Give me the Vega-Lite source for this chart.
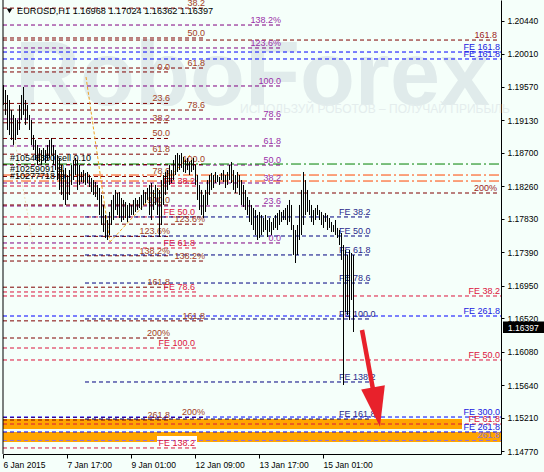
{
"$schema":"https://vega.github.io/schema/vega-lite/v6.json",
"width":498,"height":454,
"autosize":{"type":"none"},
"padding":{"left":3,"top":0,"right":43,"bottom":18},
"background":"#F5FFFA",
"config":{"view":{"stroke":null},"text":{"font":"Liberation Sans"},"axis":{"labelFont":"Liberation Sans","domainColor":"#000","tickColor":"#000","labelColor":"#000","grid":false}},
"data":{"values":[{"k":1}]},
"resolve":{"axis":{"x":"independent","y":"independent"}},
"datasets":{
"band":[{"x1":0,"x2":229.5,"y1":1.15192,"y2":1.15061},{"x1":0,"x2":249,"y1":1.15021,"y2":1.14889}],
"lv":[
{"s":"P","t":"0.0","y":1.17513,"x1":0,"x2":139.5},
{"s":"P","t":"23.6","y":1.18001,"x1":0,"x2":139.5},
{"s":"P","t":"38.2","y":1.18304,"x1":0,"x2":139.5},
{"s":"P","t":"50.0","y":1.18541,"x1":0,"x2":139.5},
{"s":"P","t":"61.8","y":1.18792,"x1":0,"x2":139.5},
{"s":"P","t":"78.6","y":1.19148,"x1":0,"x2":139.5},
{"s":"P","t":"100.0","y":1.19583,"x1":0,"x2":139.5},
{"s":"P","t":"123.6%","y":1.20084,"x1":0,"x2":139.5},
{"s":"P","t":"138.2%","y":1.20387,"x1":0,"x2":139.5},
{"s":"R","t":"0.0","y":1.19768,"x1":0,"x2":84},
{"s":"R","t":"23.6","y":1.19353,"x1":0,"x2":84},
{"s":"R","t":"38.2","y":1.19098,"x1":0,"x2":84},
{"s":"R","t":"50.0","y":1.18891,"x1":0,"x2":84},
{"s":"R","t":"61.8","y":1.18684,"x1":0,"x2":84},
{"s":"R","t":"78.6","y":1.18390,"x1":0,"x2":84},
{"s":"R","t":"100.0","y":1.18014,"x1":0,"x2":84},
{"s":"R","t":"123.6%","y":1.17600,"x1":0,"x2":84},
{"s":"R","t":"138.2%","y":1.17344,"x1":0,"x2":84},
{"s":"R","t":"161.8","y":1.16930,"x1":0,"x2":84},
{"s":"R","t":"200%","y":1.16260,"x1":0,"x2":84},
{"s":"R","t":"261.8","y":1.15179,"x1":0,"x2":84},
{"s":"R2","t":"38.2","y":1.20610,"x1":0,"x2":101.5},
{"s":"R2","t":"50.0","y":1.20216,"x1":0,"x2":101.5},
{"s":"R2","t":"61.8","y":1.19820,"x1":0,"x2":101.5},
{"s":"R2","t":"78.6","y":1.19266,"x1":0,"x2":101.5},
{"s":"R2","t":"100.0","y":1.18548,"x1":0,"x2":101.5},
{"s":"R2","t":"123.6%","y":1.17761,"x1":0,"x2":101.5},
{"s":"R2","t":"138.2%","y":1.17275,"x1":0,"x2":101.5},
{"s":"R2","t":"161.8","y":1.16486,"x1":0,"x2":101.5},
{"s":"R2","t":"200%","y":1.15212,"x1":0,"x2":101.5},
{"s":"R3","t":"161.8","y":1.20189,"x1":0,"x2":247.5},
{"s":"R3","t":"200%","y":1.18172,"x1":0,"x2":247.5},
{"s":"L","t":"261.8","y":1.14909,"x1":0,"x2":249},
{"s":"C1","t":"FE 38.2","y":1.18264,"x1":0,"x2":96.5},
{"s":"C1","t":"FE 50.0","y":1.17856,"x1":0,"x2":96.5},
{"s":"C1","t":"FE 61.8","y":1.17447,"x1":0,"x2":96.5},
{"s":"C1","t":"FE 78.6","y":1.16867,"x1":0,"x2":96.5},
{"s":"C1","t":"FE 100.0","y":1.16128,"x1":0,"x2":96.5},
{"s":"C1","t":"FE 138.2","y":1.14810,"x1":0,"x2":96.5},
{"s":"C2","t":"FE 38.2","y":1.16814,"x1":0,"x2":249},
{"s":"C2","t":"FE 50.0","y":1.15970,"x1":0,"x2":249},
{"s":"C2","t":"FE 61.8","y":1.15126,"x1":0,"x2":249},
{"s":"N","t":"FE 38.2","y":1.17856,"x1":41,"x2":184.5,"lx":168},
{"s":"N","t":"FE 50.0","y":1.17605,"x1":41,"x2":184.5,"lx":168},
{"s":"N","t":"FE 61.8","y":1.17355,"x1":41,"x2":184.5,"lx":168},
{"s":"N","t":"FE 78.6","y":1.16985,"x1":41,"x2":184.5,"lx":168},
{"s":"N","t":"FE 100.0","y":1.16511,"x1":41,"x2":184.5,"lx":168},
{"s":"N","t":"FE 138.2","y":1.15680,"x1":41,"x2":184.5,"lx":168},
{"s":"N","t":"FE 161.8","y":1.15192,"x1":41,"x2":184.5,"lx":168},
{"s":"B1","t":"FE 161.8","y":1.20031,"x1":0,"x2":249},
{"s":"B1","t":"FE 261.8","y":1.16550,"x1":0,"x2":249},
{"s":"B1","t":"FE 300.0","y":1.15218,"x1":0,"x2":249},
{"s":"B2","t":"FE 161.8","y":1.19939,"x1":0,"x2":249},
{"s":"B2","t":"FE 261.8","y":1.15021,"x1":0,"x2":249},
{"s":"G","t":"","y":1.18554,"x1":0,"x2":249},
{"s":"O","t":"","y":1.18409,"x1":0,"x2":249},
{"s":"O","t":"","y":1.18330,"x1":0,"x2":249}
],
"notes":[{"t":"#10548350 sell 0.10","y":1.18594},{"t":"#10259091 sl","y":1.18449},{"t":"#10277718 tp","y":1.18357}],
"diag":[{"g":1,"i":41.5,"y":1.19702},{"g":1,"i":53.5,"y":1.17526},{"g":2,"i":53.5,"y":1.17526},{"g":2,"i":93.5,"y":1.18673}],
"faint":[{"i":5,"y":1.19003},{"i":15,"y":1.17486}],
"arrow":[{"i":179.5,"y":1.16366},{"i":186,"y":1.15442}],
"bars":[
{"i":0,"h":1.19596,"l":1.19332},{"i":1,"h":1.19530,"l":1.19201},{"i":2,"h":1.19464,"l":1.19003},{"i":3,"h":1.19398,"l":1.18937},{"i":4,"h":1.19266,"l":1.18871},{"i":5,"h":1.19201,"l":1.18805},{"i":6,"h":1.19161,"l":1.18871},{"i":7,"h":1.19135,"l":1.18937},{"i":8,"h":1.19332,"l":1.19003},{"i":9,"h":1.19464,"l":1.19135},
{"i":10,"h":1.19570,"l":1.19201},{"i":11,"h":1.19398,"l":1.19069},{"i":12,"h":1.19332,"l":1.19135},{"i":13,"h":1.19201,"l":1.19003},{"i":14,"h":1.19135,"l":1.18805},{"i":15,"h":1.18937,"l":1.18739},{"i":16,"h":1.18871,"l":1.18607},{"i":17,"h":1.18805,"l":1.18541},{"i":18,"h":1.18765,"l":1.18581},{"i":19,"h":1.18739,"l":1.18541},
{"i":20,"h":1.18765,"l":1.18607},{"i":21,"h":1.18739,"l":1.18568},{"i":22,"h":1.18805,"l":1.18607},{"i":23,"h":1.18871,"l":1.18634},{"i":24,"h":1.18897,"l":1.18673},{"i":25,"h":1.18805,"l":1.18541},{"i":26,"h":1.18739,"l":1.18475},{"i":27,"h":1.18673,"l":1.18343},{"i":28,"h":1.18634,"l":1.18212},{"i":29,"h":1.18541,"l":1.18146},
{"i":30,"h":1.18475,"l":1.18080},{"i":31,"h":1.18502,"l":1.18014},{"i":32,"h":1.18409,"l":1.18080},{"i":33,"h":1.18475,"l":1.18146},{"i":34,"h":1.18541,"l":1.18278},{"i":35,"h":1.18607,"l":1.18343},{"i":36,"h":1.18634,"l":1.18409},{"i":37,"h":1.18607,"l":1.18212},{"i":38,"h":1.18541,"l":1.18278},{"i":39,"h":1.18449,"l":1.18317},
{"i":40,"h":1.18475,"l":1.18304},{"i":41,"h":1.18436,"l":1.18278},{"i":42,"h":1.18449,"l":1.18304},{"i":43,"h":1.18409,"l":1.18251},{"i":44,"h":1.18370,"l":1.18185},{"i":45,"h":1.18343,"l":1.18146},{"i":46,"h":1.18317,"l":1.18119},{"i":47,"h":1.18278,"l":1.18080},{"i":48,"h":1.18238,"l":1.17882},{"i":49,"h":1.18146,"l":1.17750},
{"i":50,"h":1.18014,"l":1.17658},{"i":51,"h":1.17882,"l":1.17579},{"i":52,"h":1.17816,"l":1.17552},{"i":53,"h":1.17922,"l":1.17618},{"i":54,"h":1.18080,"l":1.17750},{"i":55,"h":1.18146,"l":1.17816},{"i":56,"h":1.18212,"l":1.17948},{"i":57,"h":1.18172,"l":1.17882},{"i":58,"h":1.18185,"l":1.17842},{"i":59,"h":1.18106,"l":1.17790},
{"i":60,"h":1.18080,"l":1.17816},{"i":61,"h":1.18053,"l":1.17842},{"i":62,"h":1.18014,"l":1.17790},{"i":63,"h":1.18040,"l":1.17842},{"i":64,"h":1.18014,"l":1.17882},{"i":65,"h":1.18080,"l":1.17882},{"i":66,"h":1.18106,"l":1.17922},{"i":67,"h":1.18080,"l":1.17948},{"i":68,"h":1.18119,"l":1.17974},{"i":69,"h":1.18146,"l":1.17948},
{"i":70,"h":1.18212,"l":1.18014},{"i":71,"h":1.18185,"l":1.18040},{"i":72,"h":1.18238,"l":1.18080},{"i":73,"h":1.18278,"l":1.17882},{"i":74,"h":1.18304,"l":1.17816},{"i":75,"h":1.18212,"l":1.17948},{"i":76,"h":1.18278,"l":1.18014},{"i":77,"h":1.18238,"l":1.17882},{"i":78,"h":1.18212,"l":1.17592},{"i":79,"h":1.18343,"l":1.17750},
{"i":80,"h":1.18409,"l":1.18014},{"i":81,"h":1.18449,"l":1.18146},{"i":82,"h":1.18475,"l":1.18212},{"i":83,"h":1.18541,"l":1.18278},{"i":84,"h":1.18475,"l":1.18304},{"i":85,"h":1.18607,"l":1.18343},{"i":86,"h":1.18673,"l":1.18409},{"i":87,"h":1.18699,"l":1.18449},{"i":88,"h":1.18673,"l":1.18475},{"i":89,"h":1.18699,"l":1.18502},
{"i":90,"h":1.18647,"l":1.18449},{"i":91,"h":1.18607,"l":1.18436},{"i":92,"h":1.18634,"l":1.18475},{"i":93,"h":1.18581,"l":1.18409},{"i":94,"h":1.18607,"l":1.18449},{"i":95,"h":1.18634,"l":1.18475},{"i":96,"h":1.18541,"l":1.18278},{"i":97,"h":1.18409,"l":1.18080},{"i":98,"h":1.18278,"l":1.17948},{"i":99,"h":1.18212,"l":1.17882},
{"i":100,"h":1.18146,"l":1.17842},{"i":101,"h":1.18212,"l":1.17922},{"i":102,"h":1.18343,"l":1.18014},{"i":103,"h":1.18409,"l":1.18146},{"i":104,"h":1.18436,"l":1.18212},{"i":105,"h":1.18409,"l":1.18238},{"i":106,"h":1.18449,"l":1.18304},{"i":107,"h":1.18409,"l":1.18317},{"i":108,"h":1.18383,"l":1.18278},{"i":109,"h":1.18436,"l":1.18343},
{"i":110,"h":1.18475,"l":1.18317},{"i":111,"h":1.18409,"l":1.18238},{"i":112,"h":1.18449,"l":1.18278},{"i":113,"h":1.18541,"l":1.18343},{"i":114,"h":1.18581,"l":1.18304},{"i":115,"h":1.18475,"l":1.18212},{"i":116,"h":1.18409,"l":1.18172},{"i":117,"h":1.18449,"l":1.18238},{"i":118,"h":1.18409,"l":1.18146},{"i":119,"h":1.18343,"l":1.18014},
{"i":120,"h":1.18278,"l":1.17987},{"i":121,"h":1.18212,"l":1.17948},{"i":122,"h":1.18119,"l":1.17882},{"i":123,"h":1.18080,"l":1.17790},{"i":124,"h":1.18014,"l":1.17750},{"i":125,"h":1.17974,"l":1.17684},{"i":126,"h":1.17948,"l":1.17618},{"i":127,"h":1.17882,"l":1.17552},{"i":128,"h":1.17922,"l":1.17579},{"i":129,"h":1.17882,"l":1.17618},
{"i":130,"h":1.17842,"l":1.17658},{"i":131,"h":1.17882,"l":1.17684},{"i":132,"h":1.17816,"l":1.17592},{"i":133,"h":1.17842,"l":1.17658},{"i":134,"h":1.17790,"l":1.17618},{"i":135,"h":1.17842,"l":1.17684},{"i":136,"h":1.17882,"l":1.17711},{"i":137,"h":1.17908,"l":1.17684},{"i":138,"h":1.17948,"l":1.17750},{"i":139,"h":1.17922,"l":1.17790},
{"i":140,"h":1.17948,"l":1.17816},{"i":141,"h":1.17974,"l":1.17816},{"i":142,"h":1.18014,"l":1.17750},{"i":143,"h":1.18080,"l":1.17790},{"i":144,"h":1.18014,"l":1.17684},{"i":145,"h":1.17750,"l":1.17354},{"i":146,"h":1.17684,"l":1.17249},{"i":147,"h":1.17750,"l":1.17354},{"i":148,"h":1.18014,"l":1.17552},{"i":149,"h":1.18212,"l":1.17618},
{"i":150,"h":1.18449,"l":1.17750},{"i":151,"h":1.18343,"l":1.17882},{"i":152,"h":1.18212,"l":1.17922},{"i":153,"h":1.18080,"l":1.17882},{"i":154,"h":1.18014,"l":1.17790},{"i":155,"h":1.17948,"l":1.17750},{"i":156,"h":1.17974,"l":1.17816},{"i":157,"h":1.18014,"l":1.17882},{"i":158,"h":1.17948,"l":1.17816},{"i":159,"h":1.17922,"l":1.17750},
{"i":160,"h":1.17882,"l":1.17711},{"i":161,"h":1.17908,"l":1.17790},{"i":162,"h":1.17882,"l":1.17684},{"i":163,"h":1.17842,"l":1.17711},{"i":164,"h":1.17790,"l":1.17658},{"i":165,"h":1.17750,"l":1.17658},{"i":166,"h":1.17816,"l":1.17618},{"i":167,"h":1.17711,"l":1.17579},{"i":168,"h":1.17684,"l":1.17486},{"i":169,"h":1.17645,"l":1.17289},
{"i":170,"h":1.17486,"l":1.15640},{"i":171,"h":1.17420,"l":1.16603},{"i":172,"h":1.17354,"l":1.16563},{"i":173,"h":1.17420,"l":1.16497},{"i":174,"h":1.17381,"l":1.16761},{"i":175,"h":1.17354,"l":1.16339}
]
},
"layer":[
{"data":{"name":"band"},"mark":{"type":"rect","fill":"#FFA500"},
 "encoding":{
  "x":{"field":"x1","type":"quantitative","scale":{"domain":[0,249],"nice":false,"zero":false},
       "axis":{"values":[0,32,64,96,128,160],"labelExpr":"['6 Jan 2015','7 Jan 17:00','9 Jan 01:00','12 Jan 09:00','13 Jan 17:00','15 Jan 01:00'][round(datum.value/32)]","labelAlign":"left","labelFontSize":8.5,"labelPadding":2,"tickSize":4,"title":null,"labelOverlap":false,"labelFlush":false,"labelBound":false}},
  "x2":{"field":"x2"},
  "y":{"field":"y1","type":"quantitative","scale":{"domain":[1.147305,1.207169],"nice":false,"zero":false},
       "axis":{"orient":"right","values":[1.2044,1.2001,1.1957,1.1913,1.187,1.1826,1.1783,1.1739,1.1695,1.1652,1.1608,1.1564,1.1521,1.1477],"format":".5f","labelFontSize":8.5,"labelPadding":3,"tickSize":3,"title":null,"labelOverlap":false,"labelFlush":false,"labelBound":false}},
  "y2":{"field":"y2"}}},
{"mark":{"type":"text","font":"Liberation Sans","fontWeight":"bold","fontSize":90,"align":"left","baseline":"alphabetic","fill":"#e0ebeb","text":"RoboForex"},
 "encoding":{"x":{"datum":6,"type":"quantitative","axis":null},"y":{"datum":1.19332,"type":"quantitative","axis":null}}},
{"mark":{"type":"text","fontSize":12,"align":"left","baseline":"alphabetic","fill":"#e4eded","text":"ИСПОЛЬЗУЙ РОБОТОВ – ПОЛУЧАЙ ПРИБЫЛЬ"},
 "encoding":{"x":{"datum":118.5,"type":"quantitative","axis":null},"y":{"datum":1.19227,"type":"quantitative","axis":null}}},
{"mark":{"type":"rect","fill":"#ffffff"},
 "encoding":{"x":{"datum":77,"type":"quantitative","axis":null},"x2":{"datum":97},"y":{"datum":1.14968,"type":"quantitative","axis":null},"y2":{"datum":1.14823}}},
{"data":{"name":"lv"},"transform":[{"filter":"datum.s!='G' && datum.s!='O'"}],
 "mark":{"type":"rule","strokeWidth":1,"strokeDash":[4,3]},
 "encoding":{"x":{"field":"x1","type":"quantitative","axis":null},"x2":{"field":"x2"},"y":{"field":"y","type":"quantitative","axis":null},
  "stroke":{"field":"s","type":"nominal","legend":null,"scale":{"domain":["P","R","R2","R3","L","C1","C2","N","B1","B2","G","O"],"range":["#800080","#800000","#800000","#800000","#9370DB","#DC143C","#DC143C","#000080","#0000FF","#0000FF","#008000","#FF4500"]}}}},
{"data":{"name":"lv"},"transform":[{"filter":"datum.s=='G' || datum.s=='O'"}],
 "mark":{"type":"rule","strokeWidth":1,"strokeDash":[10,3,2,3]},
 "encoding":{"x":{"field":"x1","type":"quantitative","axis":null},"x2":{"field":"x2"},"y":{"field":"y","type":"quantitative","axis":null},
  "stroke":{"field":"s","type":"nominal","legend":null}}},
{"data":{"name":"diag"},"mark":{"type":"line","stroke":"#F0A020","strokeWidth":1,"strokeDash":[3,2]},
 "encoding":{"x":{"field":"i","type":"quantitative","axis":null},"y":{"field":"y","type":"quantitative","axis":null},"detail":{"field":"g"}}},
{"data":{"name":"faint"},"mark":{"type":"line","stroke":"#F2DDB8","strokeWidth":1,"strokeDash":[2,2]},
 "encoding":{"x":{"field":"i","type":"quantitative","axis":null},"y":{"field":"y","type":"quantitative","axis":null}}},
{"data":{"name":"lv"},"transform":[{"filter":"datum.s!='N' && datum.t!=''"}],
 "mark":{"type":"text","fontSize":9,"align":"right","baseline":"alphabetic","dy":-2,"dx":-1},
 "encoding":{"x":{"field":"x2","type":"quantitative","axis":null},"y":{"field":"y","type":"quantitative","axis":null},"text":{"field":"t"},
  "fill":{"field":"s","type":"nominal","legend":null,"scale":{"domain":["P","R","R2","R3","L","C1","C2","N","B1","B2"],"range":["#9a2fa8","#a3401f","#a3401f","#9b1c1c","#8f72d8","#DC143C","#DC143C","#2a2a8c","#2020e0","#2020e0"]}}}},
{"data":{"name":"lv"},"transform":[{"filter":"datum.s=='N'"}],
 "mark":{"type":"text","fontSize":9,"align":"left","baseline":"alphabetic","dy":-2,"fill":"#2a2a8c"},
 "encoding":{"x":{"field":"lx","type":"quantitative","axis":null},"y":{"field":"y","type":"quantitative","axis":null},"text":{"field":"t"}}},
{"data":{"name":"notes"},"mark":{"type":"text","fontSize":9,"align":"left","baseline":"alphabetic","fill":"#000000"},
 "encoding":{"x":{"datum":3.5,"type":"quantitative","axis":null},"y":{"field":"y","type":"quantitative","axis":null},"text":{"field":"t"}}},
{"data":{"name":"bars"},"mark":{"type":"rule","stroke":"#000000","strokeWidth":1,"xOffset":0.5},
 "encoding":{"x":{"field":"i","type":"quantitative","axis":null},"y":{"field":"l","type":"quantitative","axis":null},"y2":{"field":"h"}}},
{"data":{"name":"arrow"},"mark":{"type":"line","stroke":"#E8212B","strokeWidth":4.5},
 "encoding":{"x":{"field":"i","type":"quantitative","axis":null},"y":{"field":"y","type":"quantitative","axis":null}}},
{"mark":{"type":"point","shape":"M -0.6 -1 L 0.6 -1 L 0 1 Z","size":1600,"angle":350,"filled":true,"fill":"#E8212B","opacity":1,"strokeWidth":0},
 "encoding":{"x":{"datum":186.75,"type":"quantitative","axis":null},"y":{"datum":1.1535,"type":"quantitative","axis":null}}},
{"mark":{"type":"text","fontSize":9.2,"align":"left","baseline":"alphabetic","fill":"#000000","text":"EURUSD,H1  1.16968 1.17024 1.16362 1.16397"},
 "encoding":{"x":{"datum":7,"type":"quantitative","axis":null},"y":{"datum":1.20532,"type":"quantitative","axis":null}}},
{"mark":{"type":"point","shape":"triangle-down","size":30,"filled":true,"fill":"#000000","opacity":1},
 "encoding":{"x":{"datum":3.25,"type":"quantitative","axis":null},"y":{"datum":1.20572,"type":"quantitative","axis":null}}},
{"mark":{"type":"rect","fill":"#000000"},
 "encoding":{"x":{"datum":250,"type":"quantitative","axis":null},"x2":{"datum":270.5},"y":{"datum":1.16478,"type":"quantitative","axis":null},"y2":{"datum":1.16326}}},
{"mark":{"type":"text","fontSize":8.5,"align":"left","baseline":"middle","fill":"#ffffff","text":"1.16397"},
 "encoding":{"x":{"datum":252.5,"type":"quantitative","axis":null},"y":{"datum":1.16397,"type":"quantitative","axis":null}}},
{"mark":{"type":"rule","stroke":"#000000","strokeWidth":1},
 "encoding":{"x":{"datum":0,"type":"quantitative","axis":null}}}
]
}
